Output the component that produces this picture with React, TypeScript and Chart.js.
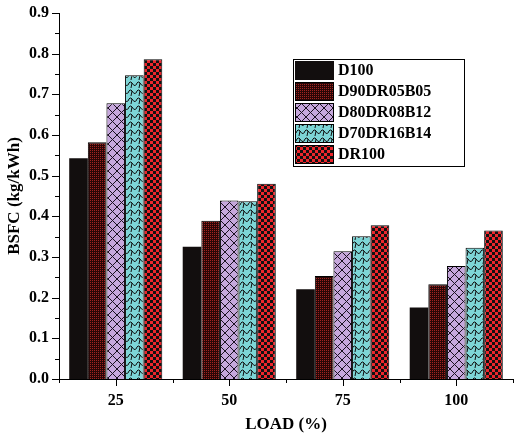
import { useRef, useEffect } from 'react';
import { Chart, registerables } from 'chart.js';

Chart.register(...registerables);

// chart data
const loads = ['25', '50', '75', '100'];
const seriesNames = ['D100', 'D90DR05B05', 'D80DR08B12', 'D70DR16B14', 'DR100'];
const d100 = [0.543, 0.325, 0.221, 0.176];
const d90dr05b05 = [0.582, 0.389, 0.253, 0.233];
const d80dr08b12 = [0.678, 0.439, 0.314, 0.278];
const d70dr16b14 = [0.747, 0.437, 0.351, 0.323];
const dr100 = [0.786, 0.480, 0.378, 0.365];
const yTicks = [0, 0.1, 0.2, 0.3, 0.4, 0.5, 0.6, 0.7, 0.8, 0.9];

const FONT = '"Liberation Serif", "Times New Roman", serif';

function makeTile(size: number, draw: (c: CanvasRenderingContext2D) => void) {
  const cv = document.createElement('canvas');
  cv.width = size;
  cv.height = size;
  const c = cv.getContext('2d')!;
  draw(c);
  return cv;
}

function buildPatterns(ctx: CanvasRenderingContext2D) {
  const dots = makeTile(2, (c) => {
    c.fillStyle = '#2a0606';
    c.fillRect(0, 0, 2, 2);
    c.fillStyle = '#a02420';
    c.fillRect(0, 0, 1, 1);
  });
  const cross = makeTile(9, (c) => {
    c.fillStyle = '#c6a7dc';
    c.fillRect(0, 0, 9, 9);
    c.strokeStyle = '#1a1020';
    c.lineWidth = 1;
    c.beginPath();
    c.moveTo(0, 0);
    c.lineTo(9, 9);
    c.moveTo(9, 0);
    c.lineTo(0, 9);
    c.stroke();
  });
  const waves = makeTile(8, (c) => {
    c.fillStyle = '#7dd5d6';
    c.fillRect(0, 0, 8, 8);
    c.strokeStyle = '#111';
    c.lineWidth = 1;
    c.beginPath();
    c.moveTo(0, 5);
    c.quadraticCurveTo(2, 0, 4, 3);
    c.quadraticCurveTo(6, 7, 8, 5);
    c.moveTo(4, 3);
    c.lineTo(3, 8);
    c.stroke();
  });
  const checks = makeTile(6, (c) => {
    c.fillStyle = '#ec262c';
    c.fillRect(0, 0, 6, 6);
    c.fillStyle = '#111';
    c.fillRect(0, 0, 3, 3);
    c.fillRect(3, 3, 3, 3);
  });
  return [
    '#120e0e',
    ctx.createPattern(dots, 'repeat')!,
    ctx.createPattern(cross, 'repeat')!,
    ctx.createPattern(waves, 'repeat')!,
    ctx.createPattern(checks, 'repeat')!,
  ];
}

// minor/major tick marks drawn outside the axes
const tickMarks = {
  id: 'tickMarks',
  afterDraw(chart: any) {
    const { ctx, chartArea, scales } = chart;
    const x = scales.x;
    const y = scales.y;
    ctx.save();
    ctx.strokeStyle = '#000';
    ctx.lineWidth = 1;
    ctx.beginPath();
    for (let i = 0; i <= 18; i++) {
      const py = Math.round(y.getPixelForValue(i * 0.05)) + 0.5;
      const len = i % 2 === 0 ? 7 : 4;
      ctx.moveTo(chartArea.left - len, py);
      ctx.lineTo(chartArea.left, py);
    }
    for (let i = 0; i < loads.length; i++) {
      const px = Math.round(x.getPixelForValue(i)) + 0.5;
      ctx.moveTo(px, chartArea.bottom);
      ctx.lineTo(px, chartArea.bottom + 7);
    }
    for (let i = 0; i <= loads.length; i++) {
      const px = Math.round(x.getPixelForValue(i - 0.5)) + 0.5;
      ctx.moveTo(px, chartArea.bottom);
      ctx.lineTo(px, chartArea.bottom + 4);
    }
    ctx.stroke();
    ctx.restore();
  },
};

// boxed legend inside the plot area
const boxLegend = {
  id: 'boxLegend',
  afterDraw(chart: any) {
    const { ctx, chartArea } = chart;
    const left = chartArea.left + 234;
    const top = chartArea.top + 46;
    const w = 171;
    const rowH = 21;
    const h = rowH * chart.data.datasets.length + 2;
    ctx.save();
    ctx.fillStyle = '#fff';
    ctx.fillRect(left, top, w, h);
    ctx.strokeStyle = '#000';
    ctx.lineWidth = 1;
    ctx.strokeRect(left + 0.5, top + 0.5, w, h);
    ctx.font = `bold 16px ${FONT}`;
    ctx.textBaseline = 'middle';
    chart.data.datasets.forEach((ds: any, i: number) => {
      const sy = top + 2 + i * rowH;
      ctx.fillStyle = ds.backgroundColor;
      ctx.fillRect(left + 2, sy, 39, 19);
      if (i > 0) {
        ctx.strokeStyle = '#000';
        ctx.strokeRect(left + 2.5, sy + 0.5, 38, 18);
      }
      ctx.fillStyle = '#000';
      ctx.fillText(ds.label, left + 45, sy + 10);
    });
    ctx.restore();
  },
};

export default function App() {
  const canvasRef = useRef<HTMLCanvasElement | null>(null);

  useEffect(() => {
    document.body.style.margin = '0';
    if (!canvasRef.current) return;
    const ctx = canvasRef.current.getContext('2d');
    if (!ctx) return;
    const fills = buildPatterns(ctx);
    const values = [d100, d90dr05b05, d80dr08b12, d70dr16b14, dr100];

    const chart = new Chart(ctx, {
      type: 'bar',
      data: {
        labels: loads,
        datasets: seriesNames.map((name, i) => ({
          label: name,
          data: values[i],
          backgroundColor: fills[i] as any,
          borderColor: '#000',
          borderWidth: i === 0 ? 0 : 1,
          borderSkipped: 'bottom',
          categoryPercentage: 0.82,
          barPercentage: 1.0,
        })),
      },
      options: {
        animation: false,
        responsive: true,
        maintainAspectRatio: false,
        layout: { padding: { top: 13, right: 6, left: 0, bottom: 0 } },
        plugins: {
          legend: { display: false },
          tooltip: { enabled: false },
        },
        scales: {
          x: {
            grid: { display: false, drawTicks: false },
            border: { display: true, color: '#000', width: 1 },
            ticks: {
              color: '#000',
              padding: 12,
              font: { family: FONT, size: 16, weight: 'bold' },
            },
            title: {
              display: true,
              text: 'LOAD (%)',
              color: '#000',
              padding: { top: 4, bottom: 1 },
              font: { family: FONT, size: 17, weight: 'bold' },
            },
            afterFit: (s: any) => {
              s.height = 57;
              s.paddingLeft = 0;
              s.paddingRight = 0;
            },
          },
          y: {
            min: 0,
            max: 0.9,
            afterBuildTicks: (s: any) => {
              s.ticks = yTicks.map((v) => ({ value: v }));
            },
            grid: { display: false, drawTicks: false },
            border: { display: true, color: '#000', width: 1 },
            ticks: {
              color: '#000',
              padding: 10,
              font: { family: FONT, size: 16, weight: 'bold' },
              callback: (v: any) => Number(v).toFixed(1),
            },
            title: {
              display: true,
              text: 'BSFC (kg/kWh)',
              color: '#000',
              padding: { top: 4, bottom: 4 },
              font: { family: FONT, size: 17, weight: 'bold' },
            },
            afterFit: (s: any) => {
              s.width = 59;
              s.paddingTop = 0;
              s.paddingBottom = 0;
            },
          },
        },
      },
      plugins: [tickMarks, boxLegend],
    });

    return () => {
      chart.destroy();
    };
  }, []);

  return (
    <div style={{ width: 519, height: 436, position: 'relative' }}>
      <canvas ref={canvasRef}></canvas>
    </div>
  );
}
